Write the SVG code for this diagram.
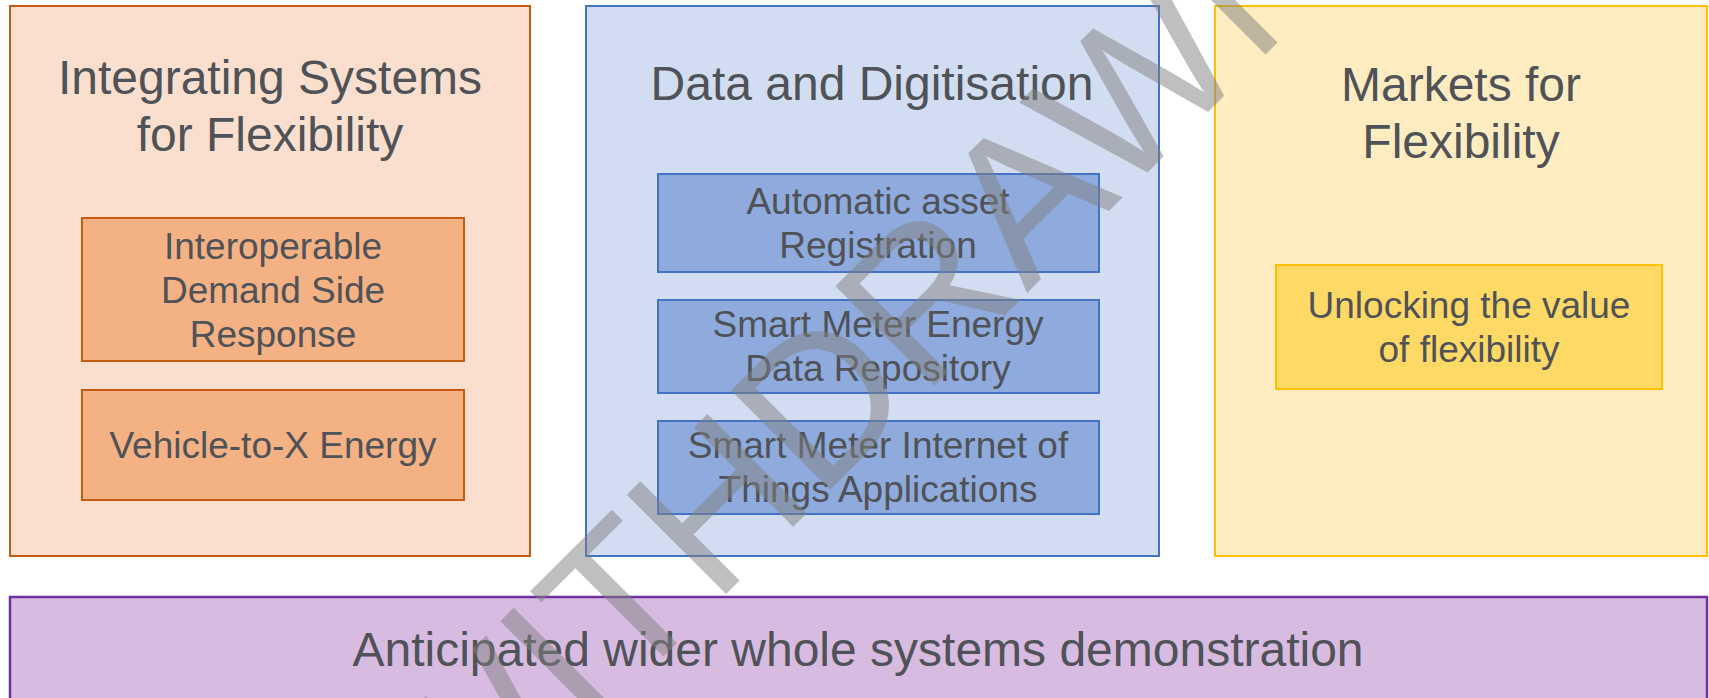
<svg xmlns="http://www.w3.org/2000/svg" width="1709" height="698" viewBox="0 0 1709 698">
<style>
text{font-family:"Liberation Sans",Arial,sans-serif;fill:#4F5257;text-anchor:middle}
.t48{font-size:48px}
.t37{font-size:37px}
.or-o{fill:#FADFCE;stroke:#C55A11;stroke-width:2}
.or-i{fill:#F4B183;stroke:#C55A11;stroke-width:2}
.bl-o{fill:#D2DDF1;stroke:#4472C4;stroke-width:2}
.bl-i{fill:#8FAADC;stroke:#4472C4;stroke-width:2}
.ye-o{fill:#FFEDC1;stroke:#FFC000;stroke-width:2}
.ye-i{fill:#FFD966;stroke:#FFC000;stroke-width:2}
.pu{fill:#D8BBE0;stroke:#7030A0;stroke-width:2.5}
.wm{font-family:"Liberation Sans",Arial,sans-serif;font-size:204px;fill:#808080;fill-opacity:0.5;text-anchor:start}
</style>
<rect width="1709" height="698" fill="#FFFFFF"/>
<g id="integrating-systems">
<rect class="or-o" x="10" y="6" width="520" height="550"/>
<text class="t48" x="270" y="94">Integrating Systems</text>
<text class="t48" x="270" y="151">for Flexibility</text>
</g>
<g id="interoperable-dsr">
<rect class="or-i" x="82" y="218" width="382" height="143"/>
<text class="t37" x="273" y="259">Interoperable</text>
<text class="t37" x="273" y="303">Demand Side</text>
<text class="t37" x="273" y="347">Response</text>
</g>
<g id="vehicle-to-x">
<rect class="or-i" x="82" y="390" width="382" height="110"/>
<text class="t37" x="273" y="458">Vehicle-to-X Energy</text>
</g>
<g id="data-digitisation">
<rect class="bl-o" x="586" y="6" width="573" height="550"/>
<text class="t48" x="872" y="100">Data and Digitisation</text>
</g>
<g id="asset-registration">
<rect class="bl-i" x="658" y="174" width="441" height="98"/>
<text class="t37" x="878" y="214">Automatic asset</text>
<text class="t37" x="878" y="258">Registration</text>
</g>
<g id="smart-meter-data">
<rect class="bl-i" x="658" y="300" width="441" height="93"/>
<text class="t37" x="878" y="337">Smart Meter Energy</text>
<text class="t37" x="878" y="381">Data Repository</text>
</g>
<g id="smart-meter-iot">
<rect class="bl-i" x="658" y="421" width="441" height="93"/>
<text class="t37" x="878" y="458">Smart Meter Internet of</text>
<text class="t37" x="878" y="502">Things Applications</text>
</g>
<g id="markets-flexibility">
<rect class="ye-o" x="1215" y="6" width="492" height="550"/>
<text class="t48" x="1461" y="101">Markets for</text>
<text class="t48" x="1461" y="158">Flexibility</text>
</g>
<g id="unlocking-value">
<rect class="ye-i" x="1276" y="265" width="386" height="124"/>
<text class="t37" x="1469" y="318">Unlocking the value</text>
<text class="t37" x="1469" y="362">of flexibility</text>
</g>
<g id="whole-systems">
<rect class="pu" x="10" y="597" width="1697" height="110"/>
<text class="t48" x="858" y="666">Anticipated wider whole systems demonstration</text>
</g>
<g id="connectors"></g>
<text class="wm" transform="translate(450,870) rotate(-45)">WITHDRAWN</text>
</svg>
